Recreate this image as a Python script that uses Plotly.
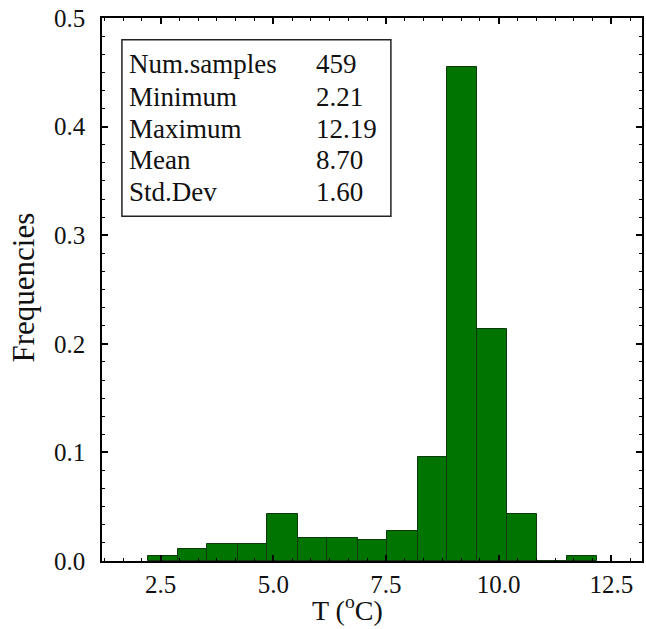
import plotly.graph_objects as go

# Histogram of temperature: bin edges (ºC) and relative frequency per bin
bin_edges = [2.21, 2.88, 3.54, 4.21, 4.87, 5.54, 6.20, 6.87, 7.53,
             8.20, 8.86, 9.53, 10.19, 10.86, 11.52, 12.19]
frequencies = [0.0044, 0.0107, 0.0152, 0.0152, 0.0432, 0.0208, 0.0208, 0.0192,
               0.0280, 0.0955, 0.4553, 0.2132, 0.0432, 0.0, 0.0044]

# Summary statistics shown in the box
stat_names = ["Num.samples", "Minimum", "Maximum", "Mean", "Std.Dev"]
stat_values = ["459", "2.21", "12.19", "8.70", "1.60"]

x_ticks = [2.5, 5.0, 7.5, 10.0, 12.5]
y_ticks = [0.0, 0.1, 0.2, 0.3, 0.4, 0.5]

centers = [(a + b) / 2 for a, b in zip(bin_edges[:-1], bin_edges[1:])]
widths = [b - a for a, b in zip(bin_edges[:-1], bin_edges[1:])]

FONT = "'Liberation Serif', 'Times New Roman', Tinos, serif"

fig = go.Figure()
fig.add_trace(go.Bar(
    x=centers, y=frequencies, width=widths,
    marker=dict(color="#007400", line=dict(color="#0b3a0b", width=1)),
    showlegend=False, hoverinfo="x+y",
))

axis_common = dict(
    showline=True, linecolor="black", linewidth=1.5, mirror="ticks",
    ticks="inside", ticklen=6, tickwidth=1.5, tickcolor="black",
    showgrid=False, zeroline=False,
    tickfont=dict(family=FONT, size=25, color="#111"),
)

fig.update_layout(
    width=646, height=629,
    margin=dict(l=102, r=2, t=18, b=68),
    paper_bgcolor="white", plot_bgcolor="white",
    font=dict(family=FONT, color="#111"),
    bargap=0,
    xaxis=dict(range=[1.2, 13.18], tickvals=x_ticks,
               ticktext=[f"{v:.1f}" for v in x_ticks],
               minor=dict(dtick=2.5 / 6, tick0=0, ticks="inside", ticklen=3,
                          tickcolor="black", tickwidth=1),
               **axis_common),
    yaxis=dict(range=[0, 0.5], tickvals=y_ticks,
               ticktext=[f"{v:.1f}" for v in y_ticks],
               ticklabelstandoff=10,
               minor=dict(dtick=0.1 / 6, tick0=0, ticks="inside", ticklen=3,
                          tickcolor="black", tickwidth=1),
               **axis_common),
)

# Axis titles
fig.add_annotation(text="T (<sup>o</sup>C)", xref="paper", yref="paper",
                   x=0.4554, y=-0.1235, xanchor="center", yanchor="bottom",
                   showarrow=False, font=dict(family=FONT, size=28, color="#111"))
fig.add_annotation(text="Frequencies", xref="paper", yref="paper",
                   x=-0.146, y=0.504, xanchor="center", yanchor="middle",
                   textangle=-90, showarrow=False,
                   font=dict(family=FONT, size=31, color="#111"))

# Statistics box
fig.add_shape(type="rect", xref="paper", yref="paper",
              x0=0.0369, x1=0.535, y0=0.635, y1=0.960,
              line=dict(color="#222", width=1.5), fillcolor="white")
row_y = [0.9155, 0.8545, 0.7963, 0.7379, 0.6796]
for name, val, yy in zip(stat_names, stat_values, row_y):
    fig.add_annotation(text=name, xref="paper", yref="paper", x=0.046, y=yy,
                       xanchor="left", yanchor="middle", showarrow=False,
                       font=dict(family=FONT, size=27, color="#111"))
    fig.add_annotation(text=val, xref="paper", yref="paper", x=0.3935, y=yy,
                       xanchor="left", yanchor="middle", showarrow=False,
                       font=dict(family=FONT, size=27, color="#111"))

fig.write_html("out.html")
